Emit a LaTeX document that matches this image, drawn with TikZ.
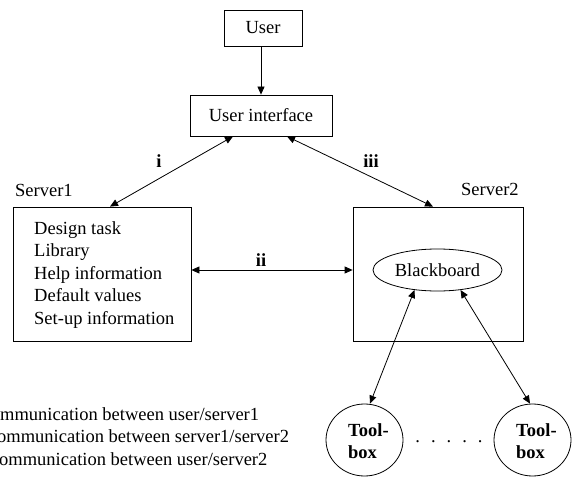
\documentclass[tikz,border=0pt]{standalone}
\usepackage{fontspec}
\setmainfont{Liberation Serif}
\usetikzlibrary{arrows.meta,shapes.geometric}
\begin{document}
\begin{tikzpicture}[x=1pt,y=-1pt,
  every node/.style={inner sep=0pt, font=\fontsize{18.5pt}{22.5pt}\selectfont},
  box/.style={draw, line width=0.8pt, rectangle},
  oval/.style={draw, line width=0.8pt, ellipse},
  tip/.style={Triangle[length=8pt,width=7pt]},
  link/.style={line width=0.8pt, {Triangle[length=8pt,width=7pt]}-{Triangle[length=8pt,width=7pt]}},
  feed/.style={line width=0.8pt, -{Triangle[length=8pt,width=7pt]}},
  tag/.style={font=\fontsize{18.5pt}{22.5pt}\selectfont\bfseries},
]
\useasboundingbox (0,0) rectangle (572,478);
\fill[white] (0,0) rectangle (572,478);

% user side
\node[box, minimum width=78pt, minimum height=36pt] (user) at (263,28) {User};
\node[box, minimum width=142pt, minimum height=41pt] (ui) at (261,115.5) {User interface};

% servers
\node[box, minimum width=178pt, minimum height=134pt] (s1) at (102,274) {};
\node[box, minimum width=170pt, minimum height=134pt] (s2) at (438,274) {};
\node[anchor=west] (s1name) at (15,190) {Server1};
\node[anchor=west] (s2name) at (461,189) {Server2};
\node[anchor=west, align=left] (s1list) at (34,275)
  {Design task\\Library\\Help information\\Default values\\Set-up information};
\node[oval, minimum width=129pt, minimum height=42pt] (bb) at (437.5,270) {Blackboard};

% toolboxes
\node[oval, minimum width=77pt, minimum height=72pt] (tb1) at (364.5,440) {};
\node[oval, minimum width=77pt, minimum height=72pt] (tb2) at (532.5,440) {};
\node[tag, anchor=west, align=left] (tb1txt) at (348,441) {Tool-\\box};
\node[tag, anchor=west, align=left] (tb2txt) at (516,441) {Tool-\\box};
\node (dots) at (449,442) {.\hspace{11pt}.\hspace{11pt}.\hspace{11pt}.\hspace{11pt}.};

% connectors
\draw[feed] (user.south -| ui.north) -- (ui.north);
\draw[link] ([xshift=-28pt]ui.south) -- ([xshift=8pt]s1.north);
\draw[link] ([xshift=26pt]ui.south) -- ([xshift=-5pt]s2.north);
\draw[link] ([yshift=4pt]s1.east) -- ([yshift=4pt]s2.west);
\draw[link] (bb.221) -- ([xshift=5.5pt]tb1.north);
\draw[link] (bb.319) -- ([xshift=-2.5pt]tb2.north);

% connector labels
\node[tag] (li) at (159,161) {i};
\node[tag] (lii) at (261,260) {ii};
\node[tag] (liii) at (371,161) {iii};

% legend
\node[anchor=base west] (leg1) at (0,420) {mmunication between user/server1};
\node[anchor=base west] (leg2) at (-3,442.5) {ommunication between server1/server2};
\node[anchor=base west] (leg3) at (-1,465) {ommunication between user/server2};
\end{tikzpicture}
\end{document}
